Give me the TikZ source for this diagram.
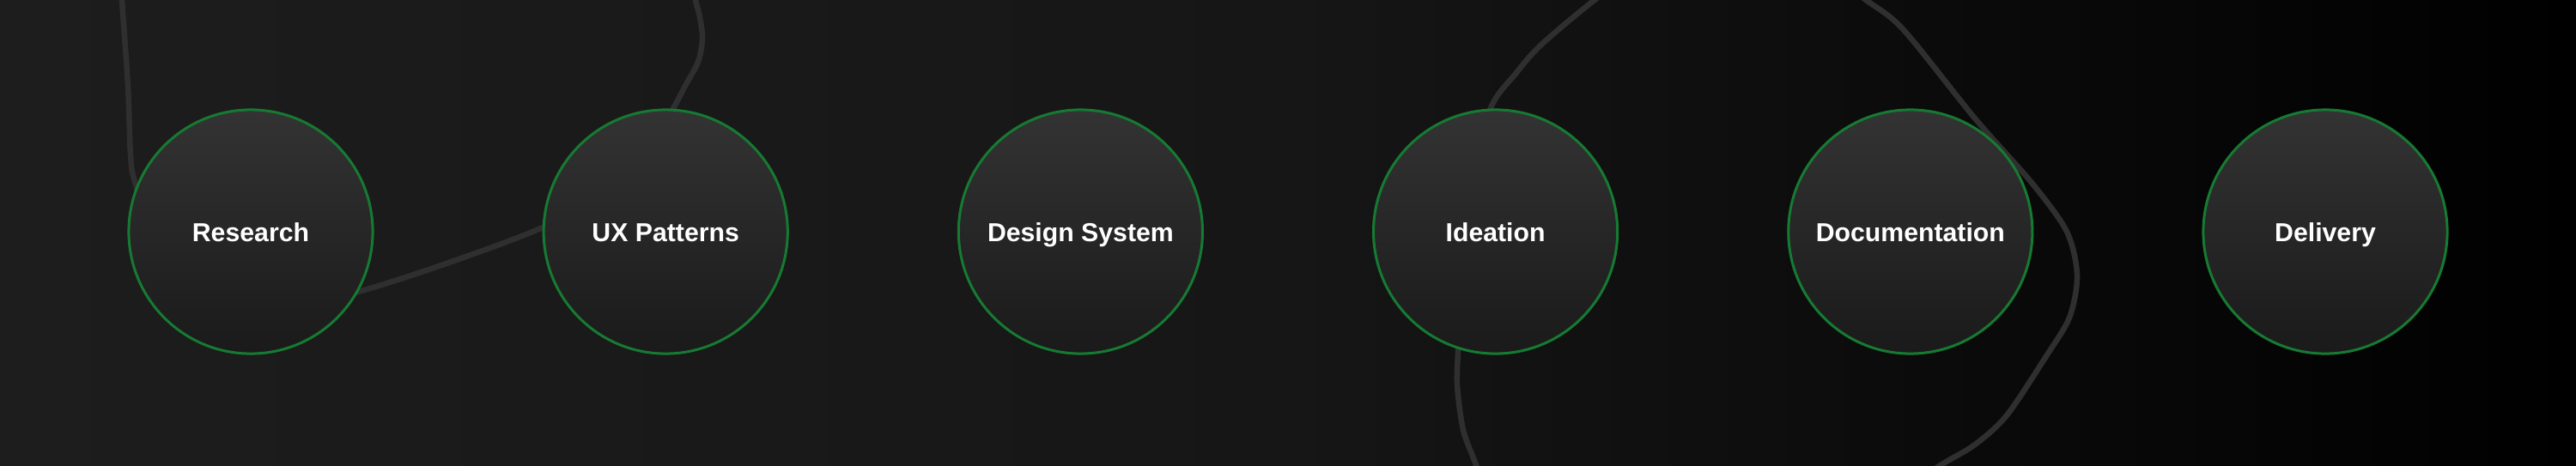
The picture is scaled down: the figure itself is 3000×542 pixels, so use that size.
\documentclass[tikz,border=0pt]{standalone}
\usepackage{fontspec}
\setmainfont{Liberation Sans}
\definecolor{bgleft}{HTML}{1D1D1D}
\definecolor{bgmid}{HTML}{161616}
\definecolor{ringtop}{HTML}{333333}
\definecolor{ringbot}{HTML}{1A1A1A}
\definecolor{ringline}{RGB}{22,122,50}
\definecolor{trailgray}{HTML}{2F2F2F}
\tikzset{
	stage/.style={circle,draw=ringline,line width=0.03cm,top color=ringtop,bottom color=ringbot,
		minimum size=2.84cm,inner sep=0pt,text=white,
		font=\fontsize{8.6pt}{10pt}\selectfont\bfseries,text height=0.22cm,text depth=0pt},
	trail/.style={trailgray,line width=0.065cm,line cap=round,line join=round}
}
\begin{document}
\begin{tikzpicture}[x=0.01cm,y=-0.01cm]
	\useasboundingbox (0,0) rectangle (3000,542) ;
	\shade[left color=bgleft,right color=black,middle color=bgmid] (0,0) rectangle (3000,542) ;
	% trails behind the stages
	\begin{scope}
		\clip (0,0) rectangle (3000,542) ;
		\draw[trail] plot[smooth] coordinates {(140,-40) (142,0) (149,100) (152,180) (158,215)
			(190,300) (260,345) (340,355) (417,340) (517,308) (632,265) (700,225) (755,170)
			(783,128) (798,100) (813,72) (818,45) (815,20) (810,0) (806,-30)} ;
		\draw[trail] plot[smooth] coordinates {(1730,580) (1719,542) (1704,501) (1697,449) (1698,410)
			(1702,320) (1716,210) (1736,126) (1765,86) (1795,52) (1857,0) (1920,-45) (2010,-70)
			(2100,-50) (2173,0) (2217,35) (2300,138) (2367,214) (2407,270) (2419,321) (2410,370)
			(2383,415) (2337,484) (2300,518) (2260,542) (2220,570)} ;
	\end{scope}
	% stages
	\node[stage] (res) at (292,270) {Research} ;
	\node[stage] (ux) at (775.2,270) {UX Patterns} ;
	\node[stage] (ds) at (1258.4,270) {Design System} ;
	\node[stage] (idea) at (1741.6,270) {Ideation} ;
	\node[stage] (doc) at (2224.8,270) {Documentation} ;
	\node[stage] (del) at (2708,270) {Delivery} ;
\end{tikzpicture}
\end{document}
